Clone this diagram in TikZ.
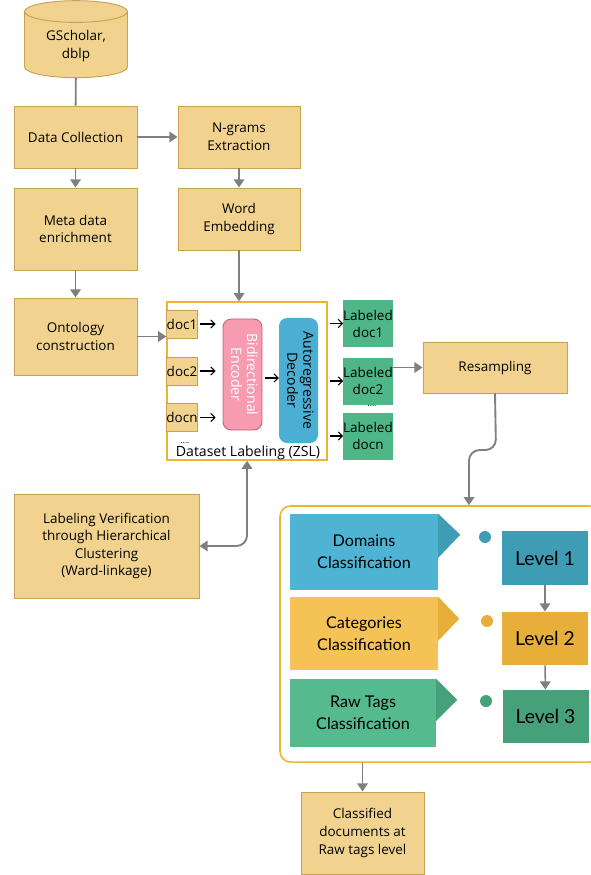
\documentclass[tikz,border=0pt]{standalone}
\usepackage{fontspec}
\setmainfont{Open Sans}
\newfontfamily\lato{Lato}
\usepackage{graphicx}
\usepackage{tikz}
\usetikzlibrary{arrows,arrows.meta,shapes.geometric,positioning}
\definecolor{boxfill}{HTML}{F1D38F}
\definecolor{boxline}{HTML}{C9A150}
\definecolor{arrgray}{HTML}{7F7F7F}
\definecolor{frameorange}{HTML}{F0B232}
\definecolor{labgreen}{HTML}{4FB687}
\definecolor{encpink}{HTML}{F79BB1}
\definecolor{encline}{HTML}{C7607D}
\definecolor{decblue}{HTML}{4BAFD3}
\definecolor{domblue}{HTML}{4FB3D3}
\definecolor{domdark}{HTML}{3E9CB5}
\definecolor{catyellow}{HTML}{F5C255}
\definecolor{catdark}{HTML}{E8AE3A}
\definecolor{rawgreen}{HTML}{56BA8F}
\definecolor{rawdark}{HTML}{46A079}
\tikzstyle{tb} = [rectangle, fill=boxfill, draw=boxline, thick, align=center, inner sep=1pt, font=\fontsize{11.5}{15}\selectfont]
\tikzstyle{lb} = [rectangle, fill=labgreen, align=center, inner sep=0pt, minimum width=1.44cm, minimum height=1.41cm, font=\fontsize{11.5}{14.5}\selectfont]
\tikzstyle{cb} = [rectangle, align=center, inner sep=0pt, minimum width=4.44cm, font=\lato\fontsize{13.8}{19}\selectfont]
\tikzstyle{lv} = [rectangle, inner sep=0pt, minimum width=2.58cm, minimum height=1.6cm, font=\lato\fontsize{16.5}{19}\selectfont]
\tikzstyle{g} = [draw=arrgray, line width=1.6pt, >={Triangle[length=7pt,width=9pt]}]
\tikzstyle{k} = [black, line width=0.9pt, >={Straight Barb[length=3.5pt,width=7pt]}]

\begin{document}
\begin{tikzpicture}[x=0.03cm, y=-0.03cm]
	\useasboundingbox (0,0) rectangle (590,875);

	% left and middle columns
	\begin{scope}[every node/.style={tb}]
		\node[cylinder, shape border rotate=90, aspect=0.35, minimum width=3.09cm, minimum height=2.31cm] (src) at (76,46) {GScholar,\\dblp};
		\node[minimum width=3.69cm, minimum height=1.86cm] (coll) at (75.5,137) {Data Collection};
		\node[minimum width=3.69cm, minimum height=2.46cm] (meta) at (75.5,229) {Meta data\\enrichment};
		\node[minimum width=3.69cm, minimum height=2.31cm] (onto) at (75.5,336.5) {Ontology\\construction};
		\node[minimum width=3.66cm, minimum height=1.86cm] (ngram) at (239,137) {N-grams\\Extraction};
		\node[minimum width=3.66cm, minimum height=1.86cm] (emb) at (239,219) {Word\\Embedding};
		\node[minimum width=5.55cm, minimum height=3.12cm] (verif) at (106.5,546) {Labeling Verification\\through Hierarchical\\Clustering\\(Ward-linkage)};
		\node[minimum width=4.32cm, minimum height=1.53cm] (res) at (495,367.5) {Resampling};
		\node[minimum width=3.69cm, minimum height=2.46cm] (out) at (362.5,833) {Classified\\documents at\\Raw tags level};
	\end{scope}

	% zero-shot labeling block
	\node[draw=frameorange, line width=1.2pt, minimum width=4.8cm, minimum height=4.74cm] (zsl) at (247,381) {};
	\node[font=\fontsize{12}{14}\selectfont, inner sep=0pt] (zsltxt) at (248,453) {Dataset Labeling (ZSL)};
	\begin{scope}[every node/.style={tb, inner sep=0pt, minimum width=0.87cm, minimum height=0.84cm}]
		\node (d1) at (182,324) {doc1};
		\node (d2) at (182,371) {doc2};
		\node (dn) at (182,417.5) {docn};
	\end{scope}
	\node[font=\scriptsize, inner sep=0pt] (dots1) at (185,443) {....};
	\node[rectangle, rounded corners=7pt, fill=encpink, draw=encline, thick, minimum width=1.17cm, minimum height=3.33cm, inner sep=0pt, text=white, font=\fontsize{12}{13.5}\selectfont] (enc) at (242.5,374.5) {\rotatebox{-90}{\begin{tabular}{@{}c@{}}Bidirectional\\Encoder\end{tabular}}};
	\node[rectangle, rounded corners=7pt, fill=decblue, minimum width=1.17cm, minimum height=3.75cm, inner sep=0pt, font=\fontsize{12}{13.5}\selectfont] (dec) at (298.5,380.5) {\rotatebox{-90}{\begin{tabular}{@{}c@{}}Autoregressive\\Decoder\end{tabular}}};

	\node[lb] (ld1) at (368,323.5) {Labeled\\doc1};
	\node[lb] (ld2) at (368,381) {Labeled\\doc2};
	\node[lb] (ldn) at (368,436) {Labeled\\docn};
	\node[font=\scriptsize, inner sep=0pt] (dots2) at (372,406) {....};

	% hierarchical classification block
	\node[draw=frameorange, line width=1.3pt, rounded corners=9pt, minimum width=9.6cm, minimum height=7.68cm] (hier) at (440,634) {};
	\node[cb, fill=domblue, minimum height=2.28cm] (dom) at (364,552) {Domains\\Classification};
	\node[cb, fill=catyellow, minimum height=2.19cm] (cat) at (364,633.5) {Categories\\Classification};
	\node[cb, fill=rawgreen, minimum width=4.38cm, minimum height=2.04cm] (raw) at (363,713) {Raw Tags\\Classification};
	\fill[domdark] (dom.north east) -- ++(22,21) -- ++(-22,23) -- cycle;
	\fill[catdark] (cat.north east) -- ++(21,22) -- ++(-21,22) -- cycle;
	\fill[rawdark] (raw.north east) -- ++(21,21) -- ++(-21,21) -- cycle;
	\node[circle, fill=domdark, minimum size=0.36cm, inner sep=0pt] (dot1) at (485,537) {};
	\node[circle, fill=catdark, minimum size=0.36cm, inner sep=0pt] (dot2) at (487,621) {};
	\node[circle, fill=rawdark, minimum size=0.36cm, inner sep=0pt] (dot3) at (486,701) {};
	\node[lv, fill=domdark] (lv1) at (545,558) {Level 1};
	\node[lv, fill=catdark] (lv2) at (545,638.5) {Level 2};
	\node[lv, fill=rawdark] (lv3) at (545.5,716.5) {Level 3};

	% gray connectors
	\draw[g] (src) -- (coll);
	\draw[g, ->] (coll) -- (ngram);
	\draw[g, ->] (coll) -- (meta);
	\draw[g, ->] (meta) -- (onto);
	\draw[g, ->] (ngram) -- (emb);
	\draw[g, ->] (emb.south) -- (emb.south |- zsl.north);
	\draw[g, ->] (onto.east) -- (onto.east -| zsl.west);
	\draw[g, ->] (ld2.east |- res.west) -- (res.west);
	\draw[g, ->, rounded corners=9pt] (res.south) -- (496,450) -- (469,450) -- (469,0 |- hier.north);
	\draw[g, <->, rounded corners=9pt] (zsl.south) |- (verif.east);
	\draw[g, ->, line width=1.3pt] (lv1) -- (lv2);
	\draw[g, ->, line width=1.3pt] (lv2) -- (lv3);
	\draw[g, ->] (out.north |- hier.south) -- (out.north);

	% black arrows inside the labeling block
	\draw[k, ->] ([xshift=2pt]d1.east) -- ([xshift=-6pt]enc.west |- d1.east);
	\draw[k, ->] ([xshift=2pt]d2.east) -- ([xshift=-6pt]enc.west |- d2.east);
	\draw[k, ->] ([xshift=2pt]dn.east) -- ([xshift=-6pt]enc.west |- dn.east);
	\draw[k, ->] ([xshift=2pt]enc.east |- 0,378) -- (dec.west |- 0,378);
	\draw[k, ->] ([xshift=2pt]zsl.east |- ld1.west) -- (ld1.west);
	\draw[k, ->] ([xshift=2pt]zsl.east |- ld2.west) -- (ld2.west);
	\draw[k, ->] ([xshift=2pt]zsl.east |- ldn.west) -- (ldn.west);
\end{tikzpicture}
\end{document}
